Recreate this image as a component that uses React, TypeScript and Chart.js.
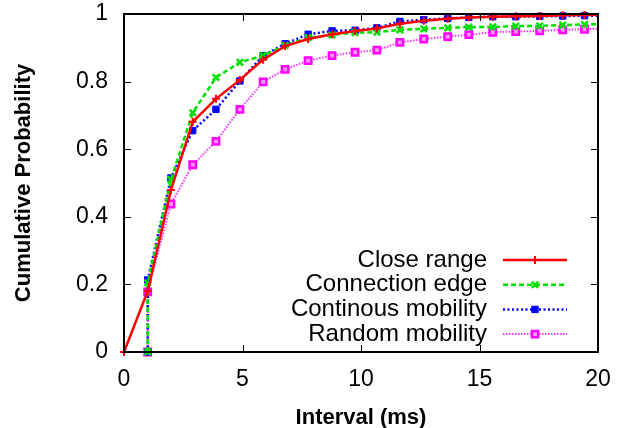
import React, { useEffect, useRef } from "react";
import { Chart, registerables } from "chart.js";
import { drawPoint } from "chart.js/helpers";

Chart.register(...registerables);

// ---- data ----
const closeX = [0, 1, 1.98, 2.9, 3.88, 4.89, 5.87, 6.8, 7.77, 8.78, 9.75, 10.67, 11.64, 12.65, 13.66, 14.55, 15.56, 16.53, 17.54, 18.51, 19.43, 20];
const closeY = [0, 0.18, 0.479, 0.681, 0.749, 0.805, 0.865, 0.905, 0.926, 0.94, 0.95, 0.957, 0.971, 0.98, 0.986, 0.99, 0.992, 0.993, 0.994, 0.996, 0.997, 0.998];

const edgeX = [1, 1, 1.98, 2.9, 3.88, 4.89, 5.87, 6.8, 7.77, 8.78, 9.75, 10.67, 11.64, 12.65, 13.66, 14.55, 15.56, 16.53, 17.54, 18.51, 19.43, 20];
const edgeY = [0, 0.205, 0.51, 0.708, 0.812, 0.857, 0.877, 0.907, 0.93, 0.938, 0.945, 0.946, 0.953, 0.956, 0.959, 0.961, 0.962, 0.964, 0.965, 0.967, 0.969, 0.97];

const contX = [1, 1, 1.98, 2.9, 3.88, 4.89, 5.87, 6.8, 7.77, 8.78, 9.75, 10.67, 11.64, 12.65, 13.66, 14.55, 15.56, 16.53, 17.54, 18.51, 19.43, 20];
const contY = [0, 0.213, 0.515, 0.655, 0.718, 0.802, 0.877, 0.912, 0.94, 0.95, 0.952, 0.959, 0.978, 0.983, 0.987, 0.99, 0.992, 0.992, 0.993, 0.994, 0.995, 0.995];

const randX = [1, 1, 1.98, 2.9, 3.88, 4.89, 5.87, 6.8, 7.77, 8.78, 9.75, 10.67, 11.64, 12.65, 13.66, 14.55, 15.56, 16.53, 17.54, 18.51, 19.43, 20];
const randY = [0, 0.178, 0.438, 0.554, 0.623, 0.718, 0.799, 0.836, 0.862, 0.877, 0.887, 0.893, 0.916, 0.926, 0.933, 0.939, 0.946, 0.948, 0.95, 0.953, 0.955, 0.956];

const seriesNames = ["Close range", "Connection edge", "Continous mobility", "Random mobility"];
const xTitle = "Interval (ms)";
const yTitle = "Cumulative Probability";

const FONT = '"Liberation Sans", Arial, Helvetica, sans-serif';

const pts = (xs: number[], ys: number[]) => xs.map((x, i) => ({ x, y: ys[i] }));
// no marker on the final (edge) point
const radii = (n: number, r: number) => Array.from({ length: n }, (_, i) => (i === n - 1 ? 0 : r));

const framePlugin = {
  id: "frame",
  afterDatasetsDraw(chart: any) {
    const { ctx, chartArea, scales } = chart;
    const { left, right, top, bottom } = chartArea;
    ctx.save();
    ctx.strokeStyle = "#000";
    ctx.lineWidth = 1;
    ctx.setLineDash([]);
    const tl = 7;
    ctx.beginPath();
    for (const t of scales.x.ticks) {
      const px = Math.round(scales.x.getPixelForValue(t.value)) + 0.5;
      ctx.moveTo(px, bottom);
      ctx.lineTo(px, bottom - tl);
      ctx.moveTo(px, top);
      ctx.lineTo(px, top + tl);
    }
    for (const t of scales.y.ticks) {
      const py = Math.round(scales.y.getPixelForValue(t.value)) + 0.5;
      ctx.moveTo(left, py);
      ctx.lineTo(left + tl, py);
      ctx.moveTo(right, py);
      ctx.lineTo(right - tl, py);
    }
    ctx.stroke();
    ctx.lineWidth = 2;
    ctx.strokeRect(left, top, right - left, bottom - top);

    // legend (gnuplot style: right-aligned text, sample on the right)
    const textRight = 487;
    const sx0 = 503;
    const sx1 = 567;
    const mx = 535;
    const y0 = 260;
    const dy = 24.7;
    ctx.font = `24px ${FONT}`;
    ctx.textAlign = "right";
    ctx.textBaseline = "middle";
    chart.data.datasets.forEach((ds: any, i: number) => {
      const y = y0 + i * dy;
      ctx.fillStyle = "#000";
      ctx.fillText(ds.label, textRight, y);
      ctx.strokeStyle = ds.borderColor;
      ctx.lineWidth = ds.borderWidth;
      ctx.setLineDash(ds.borderDash || []);
      ctx.beginPath();
      ctx.moveTo(sx0, y);
      ctx.lineTo(sx1, y);
      ctx.stroke();
      ctx.setLineDash([]);
      ctx.strokeStyle = ds.pointBorderColor;
      ctx.fillStyle = ds.pointBackgroundColor;
      ctx.lineWidth = ds.pointBorderWidth;
      drawPoint(ctx, { pointStyle: ds.pointStyle, radius: ds.legendRadius, borderWidth: ds.pointBorderWidth, rotation: 0 }, mx, y);
    });
    ctx.restore();
  },
};

export default function App() {
  const ref = useRef<HTMLCanvasElement | null>(null);
  useEffect(() => {
    document.body.style.margin = "0";
    const canvas = ref.current;
    if (!canvas) return;
    Chart.defaults.font.family = FONT;
    Chart.defaults.color = "#000";
    const n = closeX.length;
    const chart = new Chart(canvas, {
      type: "line",
      data: {
        datasets: [
          {
            label: seriesNames[0],
            data: pts(closeX, closeY),
            borderColor: "#ff0000",
            borderWidth: 2.5,
            pointStyle: "cross",
            pointRadius: radii(n, 4),
            legendRadius: 4,
            pointBorderColor: "#ff0000",
            pointBackgroundColor: "#ff0000",
            pointBorderWidth: 2,
            clip: false,
          } as any,
          {
            label: seriesNames[1],
            data: pts(edgeX, edgeY),
            borderColor: "#00e000",
            borderWidth: 2.5,
            borderDash: [5, 3],
            pointStyle: "crossRot",
            pointRadius: radii(n, 4.5),
            legendRadius: 4.5,
            pointBorderColor: "#00e000",
            pointBackgroundColor: "#00e000",
            pointBorderWidth: 2.5,
            clip: false,
          } as any,
          {
            label: seriesNames[2],
            data: pts(contX, contY),
            borderColor: "#0000ff",
            borderWidth: 2.5,
            borderDash: [2, 2.5],
            pointStyle: "rect",
            pointRadius: radii(n, 4.5),
            legendRadius: 4.5,
            pointBorderColor: "#0000ff",
            pointBackgroundColor: "#0000ff",
            pointBorderWidth: 1,
            clip: false,
          } as any,
          {
            label: seriesNames[3],
            data: pts(randX, randY),
            borderColor: "#ff33ff",
            borderWidth: 2,
            borderDash: [1.5, 1.5],
            pointStyle: "rect",
            pointRadius: radii(n, 4.5),
            legendRadius: 4.5,
            pointBorderColor: "#ff00ff",
            pointBackgroundColor: "#ff99ff",
            pointBorderWidth: 2.5,
            clip: false,
          } as any,
        ],
      },
      options: {
        animation: false,
        responsive: false,
        devicePixelRatio: 1,
        layout: { padding: { left: 0, right: 29, top: 14, bottom: 0 } },
        plugins: { legend: { display: false }, tooltip: { enabled: false } },
        elements: { line: { tension: 0 } },
        scales: {
          x: {
            type: "linear",
            min: 0,
            max: 20,
            ticks: { stepSize: 5, padding: 14, font: { size: 23 }, color: "#000" },
            grid: { display: false, drawTicks: false },
            border: { display: false },
            title: {
              display: true,
              text: xTitle,
              font: { size: 22, weight: "bold", lineHeight: 0.9 },
              padding: { top: 0, bottom: 0 },
              color: "#000",
            },
            afterFit: (s: any) => {
              s.height = 76;
              s.paddingLeft = 0;
              s.paddingRight = 0;
            },
          },
          y: {
            type: "linear",
            min: 0,
            max: 1,
            ticks: {
              stepSize: 0.2,
              padding: 16,
              font: { size: 23 },
              color: "#000",
              callback: (v: any) => String(Number(Number(v).toFixed(2))),
            },
            grid: { display: false, drawTicks: false },
            border: { display: false },
            title: {
              display: true,
              text: yTitle,
              font: { size: 22, weight: "bold" },
              padding: { top: 11, bottom: 0 },
              color: "#000",
            },
            afterFit: (s: any) => {
              s.width = 124;
              s.paddingTop = 0;
              s.paddingBottom = 0;
            },
          },
        },
      } as any,
      plugins: [framePlugin],
    });
    return () => chart.destroy();
  }, []);
  return (
    <div style={{ width: 627, height: 428 }}>
      <canvas ref={ref} width={627} height={428} style={{ display: "block" }} />
    </div>
  );
}
